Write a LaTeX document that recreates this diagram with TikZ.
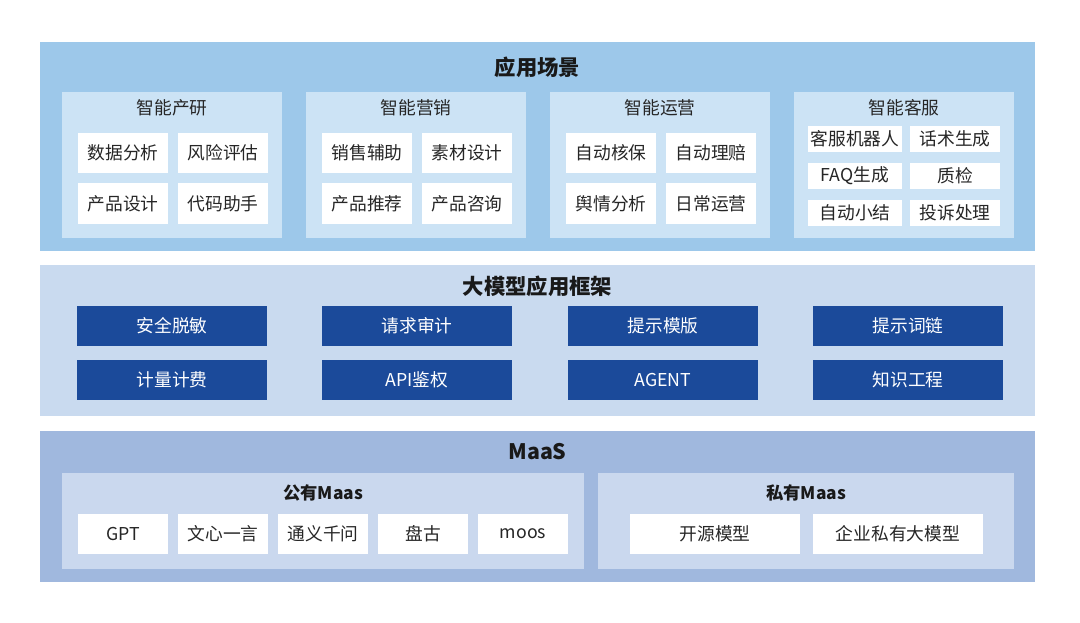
\documentclass[tikz,border=0pt]{standalone}
\usepackage{fontspec}
\setmainfont{Noto Sans CJK SC}
\begin{document}
\begin{tikzpicture}[x=0.75pt,y=-0.75pt,
 panel/.style={draw=none,fill=#1},
 wbox/.style={fill=white,font=\fontsize{13.3}{15}\selectfont,text=black!85},
 dbox/.style={fill=dblue,font=\fontsize{13.3}{15}\selectfont,text=white},
 title/.style={font=\fontsize{16}{18}\selectfont\bfseries,text=black!90},
 sub/.style={font=\fontsize{13.3}{15}\selectfont,text=black!85},
 subb/.style={font=\fontsize{13}{15}\selectfont\bfseries,text=black!90}]
\definecolor{p1}{HTML}{9DC8EA}\definecolor{s1}{HTML}{CCE3F5}
\definecolor{p2}{HTML}{C9DAEF}\definecolor{dblue}{HTML}{1B4A9A}
\definecolor{p3}{HTML}{A0B8DE}\definecolor{s3}{HTML}{CAD8EE}
\useasboundingbox[fill=white] (0,0) rectangle (1080,622);
\newcommand{\bx}[6]{\path[#1] (#2,#3) rectangle (#4,#5) node[midway] {#6};}
% panel 1
\fill[p1] (40,42) rectangle (1035,251);
\node[title] (t1) at (537.5,67) {应用场景};
\foreach \x/\n in {62/智能产研,306/智能营销,550/智能运营,794/智能客服}{
 \fill[s1] (\x,92) rectangle (\x+220,238);
 \node[sub] at (\x+110,108) {\n};}
\bx{wbox}{78}{133}{168}{173}{数据分析}\bx{wbox}{178}{133}{268}{173}{风险评估}
\bx{wbox}{78}{183}{168}{224}{产品设计}\bx{wbox}{178}{183}{268}{224}{代码助手}
\bx{wbox}{322}{133}{412}{173}{销售辅助}\bx{wbox}{422}{133}{512}{173}{素材设计}
\bx{wbox}{322}{183}{412}{224}{产品推荐}\bx{wbox}{422}{183}{512}{224}{产品咨询}
\bx{wbox}{566}{133}{656}{173}{自动核保}\bx{wbox}{666}{133}{756}{173}{自动理赔}
\bx{wbox}{566}{183}{656}{224}{舆情分析}\bx{wbox}{666}{183}{756}{224}{日常运营}
\bx{wbox}{808}{126}{902}{152}{客服机器人}\bx{wbox}{910}{126}{1000}{152}{话术生成}
\bx{wbox}{808}{163}{902}{189}{FAQ生成}\bx{wbox}{910}{163}{1000}{189}{质检}
\bx{wbox}{808}{200}{902}{226}{自动小结}\bx{wbox}{910}{200}{1000}{226}{投诉处理}
% panel 2
\fill[p2] (40,265) rectangle (1035,416);
\node[title] (t2) at (537.5,286) {大模型应用框架};
\bx{dbox}{77}{306}{267}{346}{安全脱敏}\bx{dbox}{322}{306}{512}{346}{请求审计}
\bx{dbox}{568}{306}{758}{346}{提示模版}\bx{dbox}{813}{306}{1003}{346}{提示词链}
\bx{dbox}{77}{360}{267}{400}{计量计费}\bx{dbox}{322}{360}{512}{400}{API鉴权}
\bx{dbox}{568}{360}{758}{400}{AGENT}\bx{dbox}{813}{360}{1003}{400}{知识工程}
% panel 3
\fill[p3] (40,431) rectangle (1035,582);
\node[title] (t3) at (537.5,452) {MaaS};
\fill[s3] (62,473) rectangle (584,569);\fill[s3] (598,473) rectangle (1014,569);
\node[subb] (s31) at (323,493) {公有Maas};
\node[subb] (s32) at (806,493) {私有Maas};
\bx{wbox}{78}{514}{168}{554}{GPT}\bx{wbox}{178}{514}{268}{554}{文心一言}
\bx{wbox}{278}{514}{368}{554}{通义千问}\bx{wbox}{378}{514}{468}{554}{盘古}
\bx{wbox}{478}{514}{568}{554}{moos}
\bx{wbox}{630}{514}{800}{554}{开源模型}\bx{wbox}{813}{514}{983}{554}{企业私有大模型}
\end{tikzpicture}
\end{document}
